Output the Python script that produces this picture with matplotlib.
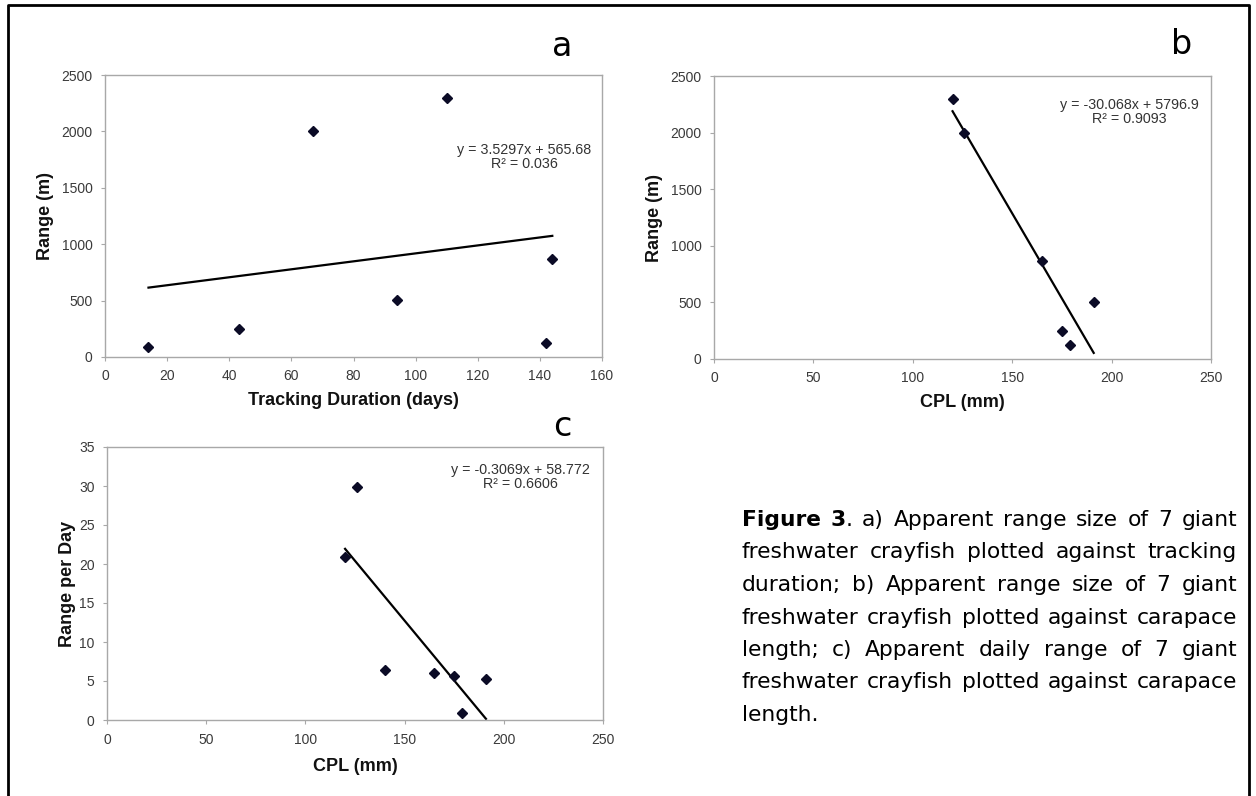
import numpy as np
import matplotlib
matplotlib.use("Agg")
import matplotlib.pyplot as plt
from matplotlib.lines import Line2D

# panel a: range vs tracking duration
days = [14, 43, 67, 94, 110, 142, 144]
range_a = [88, 244, 2000, 502, 2300, 126, 870]
fit_a = (3.5297, 565.68)
eq_a = ["y = 3.5297x + 565.68", "R² = 0.036"]

# panel b: range vs carapace length
cpl_b = [120, 126, 165, 191, 175, 179]
range_b = [2300, 2000, 870, 500, 244, 126]
fit_b = (-30.068, 5796.9)
eq_b = ["y = -30.068x + 5796.9", "R² = 0.9093"]

# panel c: range per day vs carapace length
cpl_c = [120, 126, 140, 165, 175, 179, 191]
rpd_c = [20.9, 29.9, 6.4, 6.0, 5.6, 0.85, 5.3]
fit_c = (-0.3069, 58.772)
eq_c = ["y = -0.3069x + 58.772", "R² = 0.6606"]

caption = [
    [("Figure 3", "bold"), (". a) Apparent range size of 7 giant", "normal")],
    [("freshwater crayfish plotted against tracking", "normal")],
    [("duration; b) Apparent range size of 7 giant", "normal")],
    [("freshwater crayfish plotted against carapace", "normal")],
    [("length; c) Apparent daily range of 7 giant", "normal")],
    [("freshwater crayfish plotted against carapace", "normal")],
    [("length.", "normal")],
]

W, H = 1256, 796
fig = plt.figure(figsize=(W / 100, H / 100), dpi=100)
fig.patch.set_facecolor("white")

def px(x0, y0, x1, y1):
    # pixel box (top-left origin) -> figure fraction rect
    return [x0 / W, 1 - y1 / H, (x1 - x0) / W, (y1 - y0) / H]

tick_font = dict(family="Liberation Sans", size=10, color="#3a3a3a")
lab_font = dict(family="Liberation Sans", size=13, weight="bold", color="#111111")
gray = "#a8a8a8"

def style(ax, xlim, ylim, xt, yt, xlabel, ylabel, xlabpad, ylabpad):
    ax.set_xlim(*xlim)
    ax.set_ylim(*ylim)
    ax.set_xticks(xt)
    ax.set_yticks(yt)
    for s in ax.spines.values():
        s.set_color(gray)
        s.set_linewidth(1.0)
    ax.tick_params(direction="out", length=3, width=0.8, color=gray, pad=6)
    for lab in ax.get_xticklabels() + ax.get_yticklabels():
        lab.set_fontfamily(tick_font["family"])
        lab.set_fontsize(tick_font["size"])
        lab.set_color(tick_font["color"])
    ax.set_xlabel(xlabel, labelpad=xlabpad, **lab_font)
    ax.set_ylabel(ylabel, labelpad=ylabpad, **lab_font)

def scatter_fit(ax, x, y, fit, xr):
    xs = np.array(xr, dtype=float)
    ax.plot(xs, fit[0] * xs + fit[1], color="black", lw=1.6, zorder=2)
    ax.plot(x, y, ls="none", marker="D", ms=5, color="#0b0b26", zorder=3)

def eq_text(ax, lines, xc, y0):
    for i, t in enumerate(lines):
        fig.text(xc / W, 1 - (y0 + i * 14) / H, t, ha="center", va="center",
                 family="Liberation Sans", size=10.3, color="#333333")

# panel a
ax_a = fig.add_axes(px(105, 75, 602, 357))
scatter_fit(ax_a, days, range_a, fit_a, [min(days), max(days)])
style(ax_a, (0, 160), (0, 2500), range(0, 161, 20), range(0, 2501, 500),
      "Tracking Duration (days)", "Range (m)", 6, 5)
eq_text(ax_a, eq_a, 524, 150)

# panel b
ax_b = fig.add_axes(px(714, 76, 1211, 359))
scatter_fit(ax_b, cpl_b, range_b, fit_b, [120, 191])
style(ax_b, (0, 250), (0, 2500), range(0, 251, 50), range(0, 2501, 500),
      "CPL (mm)", "Range (m)", 6, 5)
eq_text(ax_b, eq_b, 1129, 105)

# panel c
ax_c = fig.add_axes(px(107, 447, 603, 720))
scatter_fit(ax_c, cpl_c, rpd_c, fit_c, [120, 191])
style(ax_c, (0, 250), (0, 35), range(0, 251, 50), range(0, 36, 5),
      "CPL (mm)", "Range per Day", 8, 2)
eq_text(ax_c, eq_c, 520, 470)

# panel letters
for letter, (lx, ly) in zip("abc", [(562, 47), (1182, 45), (562, 427)]):
    fig.text(lx / W, 1 - ly / H, letter, ha="center", va="center",
             family="DejaVu Sans", size=24, color="black")

# outer frame (open at the bottom)
frame = Line2D([8 / W, 8 / W, 1249 / W, 1249 / W], [0, 1 - 5 / H, 1 - 5 / H, 0],
               transform=fig.transFigure, color="black", lw=2)
fig.add_artist(frame)

# justified caption
renderer = fig.canvas.get_renderer()
cap_left, cap_right = 742, 1237
cap_top, cap_step = 520, 32.5

def measure(text, weight, size):
    t = fig.text(0, 0, text, family="DejaVu Sans", size=size, weight=weight)
    w = t.get_window_extent(renderer).width
    t.remove()
    return w

# pick the font size so the widest line just fits with normal spacing
natural = max(sum(measure(t, w, 10) for t, w in segs) for segs in caption)
cap_size = 10 * (cap_right - cap_left - 4) / natural

for li, segs in enumerate(caption):
    y = 1 - (cap_top + li * cap_step) / H
    # split into words, keep weight; glue pieces not separated by a space
    words = []
    for text, weight in segs:
        parts = text.split(" ")
        for pi, p in enumerate(parts):
            if p == "":
                continue
            if pi == 0 and words and not text.startswith(" "):
                words[-1].append((p, weight))
            else:
                words.append([(p, weight)])
    widths = [sum(measure(p, w, cap_size) for p, w in word) for word in words]
    last = li == len(caption) - 1
    if last or len(words) == 1:
        gap = 0
    else:
        gap = (cap_right - cap_left - sum(widths)) / (len(words) - 1)
    x = cap_left
    for word, ww in zip(words, widths):
        xx = x
        for p, w in word:
            fig.text(xx / W, y, p, family="DejaVu Sans", size=cap_size,
                     weight=w, va="center", ha="left", color="black")
            xx += measure(p, w, cap_size)
        x += ww + gap

fig.savefig("out.png", dpi=100)
